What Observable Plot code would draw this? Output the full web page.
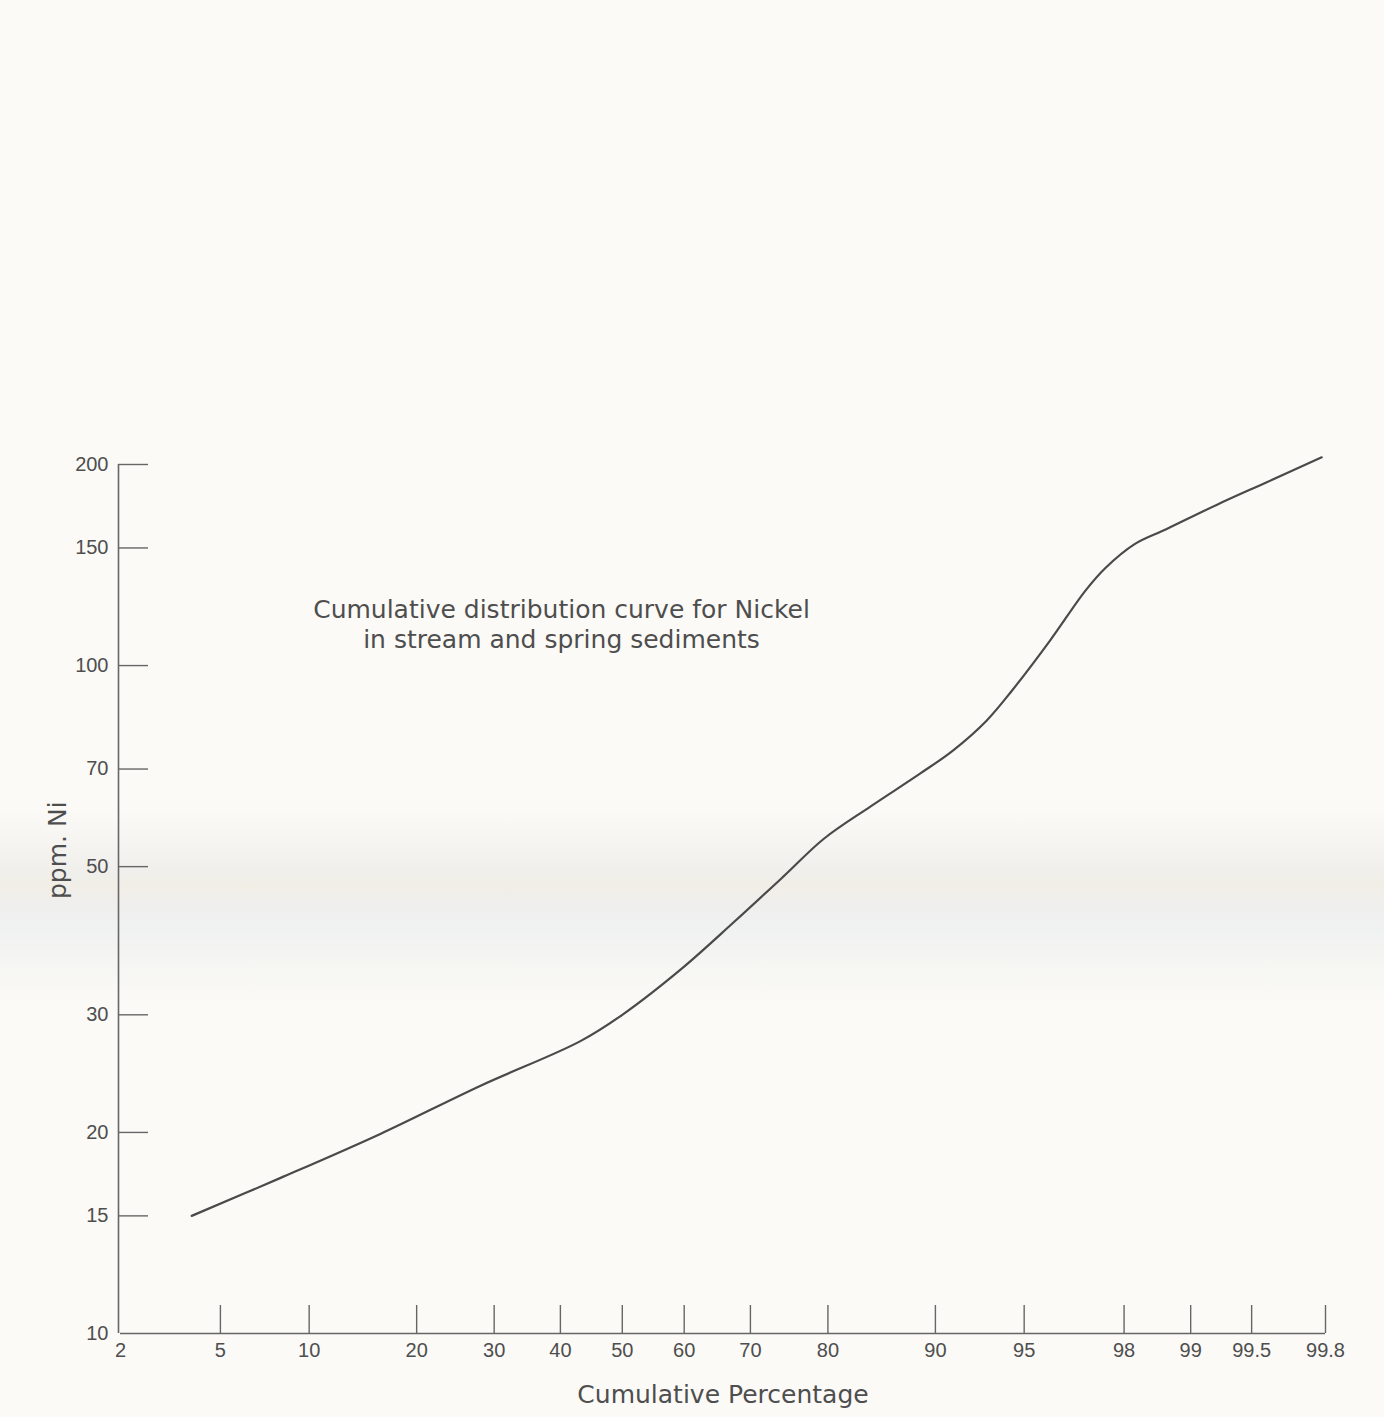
<!DOCTYPE html>
<html>
<head>
<meta charset="utf-8">
<script src="https://cdn.jsdelivr.net/npm/d3@7"></script>
<script src="https://cdn.jsdelivr.net/npm/@observablehq/plot@0.6"></script>
<style>
  html, body { margin: 0; padding: 0; }
  body {
    width: 1384px; height: 1417px; overflow: hidden;
    background: linear-gradient(to bottom,
      #fbfaf7 0px, #fbfaf7 810px, #f5f4f1 845px, #f0efec 870px,
      #f1eee6 886px, #efefee 905px, #f0f1f1 930px, #f6f6f3 965px,
      #fbfaf7 1005px, #fbfaf7 100%);
  }
  #chart svg { display: block; }
</style>
</head>
<body>
<div id="chart"></div>
<script>
// ---- data ----
const pct = [3.9, 8.1, 16.1, 28.1, 43.2, 50, 59.8, 67.5, 74.5, 79.5, 84.5, 88.85, 91.2, 93.2, 94.46, 96.0, 97.1, 97.6, 98.2, 98.7, 99.25, 99.58, 99.79];
const ni  = [15.0, 17.1, 19.9, 23.5, 27.4, 30.0, 35.3, 41.2, 48.3, 55.0, 61.5, 68.9, 74.6, 82.7, 91.7, 109, 129.5, 140, 152, 160, 174, 188, 205];

const xTicks = [2, 5, 10, 20, 30, 40, 50, 60, 70, 80, 90, 95, 98, 99, 99.5, 99.8];
const yTicks = [10, 15, 20, 30, 50, 70, 100, 150, 200];

const titleText = "Cumulative distribution curve for Nickel\nin stream and spring sediments";
const xLabel = "Cumulative Percentage";
const yLabel = "ppm. Ni";

// ---- probability (normal quantile) scale transform ----
function probit(p) {
  const a = [-3.969683028665376e+01, 2.209460984245205e+02, -2.759285104469687e+02, 1.383577518672690e+02, -3.066479806614716e+01, 2.506628277459239e+00];
  const b = [-5.447609879822406e+01, 1.615858368580409e+02, -1.556989798598866e+02, 6.680131188771972e+01, -1.328068155288572e+01];
  const c = [-7.784894002430293e-03, -3.223964580411365e-01, -2.400758277161838e+00, -2.549732539343734e+00, 4.374664141464968e+00, 2.938163982698783e+00];
  const d = [7.784695709041462e-03, 3.224671290700398e-01, 2.445134137142996e+00, 3.754408661907416e+00];
  const pl = 0.02425, ph = 1 - pl;
  let q, r;
  if (p < pl) {
    q = Math.sqrt(-2 * Math.log(p));
    return (((((c[0]*q+c[1])*q+c[2])*q+c[3])*q+c[4])*q+c[5]) / ((((d[0]*q+d[1])*q+d[2])*q+d[3])*q+1);
  }
  if (p <= ph) {
    q = p - 0.5; r = q * q;
    return (((((a[0]*r+a[1])*r+a[2])*r+a[3])*r+a[4])*r+a[5])*q / (((((b[0]*r+b[1])*r+b[2])*r+b[3])*r+b[4])*r+1);
  }
  q = Math.sqrt(-2 * Math.log(1 - p));
  return -(((((c[0]*q+c[1])*q+c[2])*q+c[3])*q+c[4])*q+c[5]) / ((((d[0]*q+d[1])*q+d[2])*q+d[3])*q+1);
}

// ---- layout ----
const W = 1384, H = 1417;
const mL = 120, mR = 59, mT = 464, mB = 84;
const frameW = W - mL - mR, frameH = H - mT - mB;
const axisColor = "#666";
const textColor = "#4e4e4e";
const tickFont = "'Liberation Sans', Arial, sans-serif";
const labelFont = "'DejaVu Sans', Verdana, sans-serif";

const chart = Plot.plot({
  width: W,
  height: H,
  marginLeft: mL, marginRight: mR, marginTop: mT, marginBottom: mB,
  style: { background: "transparent", overflow: "visible" },
  x: { transform: (p) => probit(p / 100), axis: null },
  y: { type: "log", domain: [10, 200], axis: null },
  marks: [
    // axis lines
    Plot.ruleX([xTicks[0]], { stroke: axisColor, strokeWidth: 1.6, dx: -2 }),
    Plot.ruleY([yTicks[0]], { stroke: axisColor, strokeWidth: 1.6 }),
    // tick marks
    Plot.ruleX(xTicks.slice(1), { x: (d) => d, stroke: axisColor, strokeWidth: 1.4, insetTop: frameH - 28 }),
    Plot.ruleY(yTicks.slice(1), { y: (d) => d, stroke: axisColor, strokeWidth: 1.4, dx: -2, insetRight: frameW - 30 }),
    // tick labels
    Plot.text(xTicks, {
      x: (d) => d, text: (d) => String(d), frameAnchor: "bottom", lineAnchor: "top", dy: 9,
      fontFamily: tickFont, fontSize: 20, fill: textColor
    }),
    Plot.text(yTicks, {
      y: (d) => d, text: (d) => String(d), frameAnchor: "left", textAnchor: "end", dx: -12,
      fontFamily: tickFont, fontSize: 20, fill: textColor
    }),
    // curve
    Plot.line({ length: pct.length }, {
      x: pct, y: ni, curve: "catmull-rom", stroke: "#4a4a4a", strokeWidth: 2.2
    }),
    // axis titles
    Plot.text([xLabel], {
      frameAnchor: "bottom", lineAnchor: "top", dy: 52,
      fontFamily: labelFont, fontSize: 25, fill: textColor
    }),
    Plot.text([yLabel], {
      frameAnchor: "left", rotate: -90, lineAnchor: "middle", dx: -63,
      fontFamily: labelFont, fontSize: 25, fill: textColor
    }),
    // chart title inside the plot
    Plot.text([titleText], {
      frameAnchor: "top-left", textAnchor: "middle", lineAnchor: "top", lineHeight: 1.2,
      dx: 441, dy: 132,
      fontFamily: labelFont, fontSize: 25, fill: textColor
    })
  ]
});

document.getElementById("chart").appendChild(chart);
</script>
</body>
</html>
